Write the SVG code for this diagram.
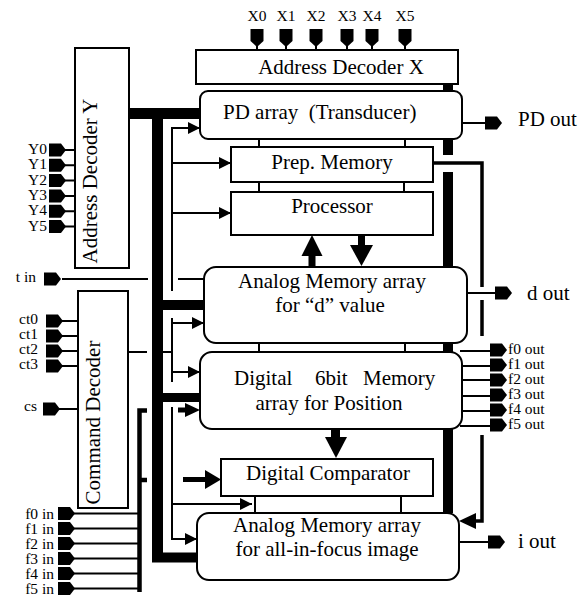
<svg xmlns="http://www.w3.org/2000/svg" width="582" height="598" viewBox="0 0 582 598">
<style>
text{font-family:"Liberation Serif","Times New Roman",serif;fill:#000}
.L{font-size:21px}
.S{font-size:15.5px}
.m{text-anchor:middle}
.e{text-anchor:end}
.box{fill:#fff;stroke:#000;stroke-width:2}
.ln{fill:none;stroke:#000;stroke-width:2}
.ln3{fill:none;stroke:#000;stroke-width:3.5}
.ln4{fill:none;stroke:#000;stroke-width:4.5}
.bus{fill:none;stroke:#000;stroke-width:11}
.arr{fill:none;stroke:#000;stroke-width:2;marker-end:url(#ah)}
.fill{fill:#000}
</style>
<defs>
<marker id="ah" markerUnits="userSpaceOnUse" markerWidth="13" markerHeight="13" refX="12" refY="6" orient="auto"><path d="M0,0 L12,6 L0,12 Z" fill="#000"/></marker>
<path id="pR" d="M0,-6.5 H12 L17,0 L12,6.5 H0 Z" fill="#000"/>
<path id="pD" d="M-6.5,0 H6.5 V12 L0,18 L-6.5,12 Z" fill="#000"/>
</defs>
<rect width="582" height="598" fill="#fff"/>

<g id="connectors">
  <!-- left bus -->
  <path class="bus" d="M129,113.5 H200"/>
  <path class="bus" d="M157.5,108 V562"/>
  <path class="bus" d="M152,557.5 H197" style="stroke-width:10"/>
  <path class="bus" d="M157,305 H204" style="stroke-width:10"/>
  <path class="bus" d="M157,397.5 H200" style="stroke-width:9"/>
  <!-- right bus -->
  <path class="bus" d="M448,83 V155" style="stroke-width:10"/>
  <path class="bus" d="M448,172 V513" style="stroke-width:10"/>
  <!-- prep memory output loop -->
  <path class="ln3" d="M433,163 H482 V287"/>
  <path class="ln3" d="M482,300 V336"/>
  <path class="ln3" d="M482,435 V521 H475"/>
  <polygon class="fill" points="459,521 476,513 476,529"/>
  <!-- control lines -->
  <path class="ln" d="M172,127 V291"/>
  <path class="arr" d="M172,128 H200"/>
  <path class="arr" d="M172,163 H231"/>
  <path class="arr" d="M172,213 H231"/>
  <path class="ln" d="M62,279 H148"/>
  <path class="ln" d="M178,279 H204"/>
  <path class="ln" d="M172,318 V382"/>
  <path class="arr" d="M172,323 H204"/>
  <path class="arr" d="M172,372 H200"/>
  <path class="ln" d="M128,352 H147"/>
  <path class="ln" d="M163,352 H172"/>
  <path class="ln" d="M172,407 V540"/>
  <path class="arr" d="M172,504 H252"/>
  <path class="arr" d="M172,539 H197"/>
  <!-- f in bracket -->
  <path class="ln4" d="M139.5,592 V410.5 H147"/>
  <path class="ln4" d="M139.5,480 H147"/>
  <path class="ln" d="M74,513.5 H139 M74,528.5 H139 M74,543.5 H139 M74,558.5 H139 M74,573.5 H139 M74,588.5 H139"/>
  <rect class="fill" x="178" y="407.5" width="8" height="5"/>
  <polygon class="fill" points="185,403 200,410 185,417"/>
  <rect class="fill" x="183" y="477" width="23" height="5"/>
  <polygon class="fill" points="205,470 221,479.5 205,489"/>
  <!-- inter-box connectors -->
  <path class="ln" d="M259,139 V147 M405,139 V147 M259,182 V192 M404,182 V192 M259,343 V352 M405,343 V352 M255,496 V513 M401,496 V513"/>
  <!-- thick arrows -->
  <rect class="fill" x="308.5" y="255" width="7" height="12"/>
  <polygon class="fill" points="301.5,256 312,235 322.5,256"/>
  <rect class="fill" x="358" y="235" width="7" height="11"/>
  <polygon class="fill" points="350,245 373,245 361.5,266"/>
  <rect class="fill" x="331" y="429" width="9" height="9"/>
  <polygon class="fill" points="325,437 347,437 336,458"/>
  <!-- outputs -->
  <path class="ln" d="M462,123 H486 M467,293 H496 M459,542 H489"/>
  <path class="ln" d="M460,351 H491 M460,366 H491 M460,380 H491 M460,396 H491 M460,411 H491 M460,426 H491"/>
  <!-- input stubs -->
  <path class="ln" d="M257,46 V50 M286,46 V50 M316,46 V50 M347,46 V50 M372,46 V50 M405,46 V50"/>
  <path class="ln" d="M65,150 H75 M65,165.3 H75 M65,180.6 H75 M65,195.9 H75 M65,211.2 H75 M65,226.5 H75"/>
  <path class="ln" d="M62,321 H78 M62,336 H78 M62,351 H78 M62,366 H78 M59,409 H78"/>
</g>

<g id="addrX">
  <rect class="box" x="196" y="50" width="262" height="34"/>
  <text class="L m" x="341" y="74">Address Decoder X</text>
  <use href="#pD" x="257" y="29"/><use href="#pD" x="286" y="29"/><use href="#pD" x="316" y="29"/>
  <use href="#pD" x="347" y="29"/><use href="#pD" x="372" y="29"/><use href="#pD" x="405" y="29"/>
  <text class="S m" x="257" y="21">X0</text><text class="S m" x="286" y="21">X1</text><text class="S m" x="316" y="21">X2</text>
  <text class="S m" x="347" y="21">X3</text><text class="S m" x="372" y="21">X4</text><text class="S m" x="405" y="21">X5</text>
</g>

<g id="addrY">
  <rect class="box" x="75" y="48" width="54" height="220"/>
  <text class="L m" transform="translate(97,181) rotate(-90)">Address Decoder Y</text>
  <use href="#pR" x="49" y="150"/><use href="#pR" x="49" y="165.3"/><use href="#pR" x="49" y="180.6"/>
  <use href="#pR" x="49" y="195.9"/><use href="#pR" x="49" y="211.2"/><use href="#pR" x="49" y="226.5"/>
  <text class="S e" x="47" y="154">Y0</text><text class="S e" x="47" y="169.3">Y1</text><text class="S e" x="47" y="184.6">Y2</text>
  <text class="S e" x="47" y="199.9">Y3</text><text class="S e" x="47" y="215.2">Y4</text><text class="S e" x="47" y="230.5">Y5</text>
</g>

<g id="tin">
  <use href="#pR" x="44" y="279"/>
  <text class="S e" x="36" y="282">t in</text>
</g>

<g id="cmd">
  <rect class="box" x="78" y="291" width="50" height="217"/>
  <text class="L m" transform="translate(100,422.5) rotate(-90)">Command Decoder</text>
  <use href="#pR" x="46" y="321"/><use href="#pR" x="46" y="336"/><use href="#pR" x="46" y="351"/><use href="#pR" x="46" y="366"/>
  <text class="S e" x="38" y="324">ct0</text><text class="S e" x="38" y="339">ct1</text><text class="S e" x="38" y="354">ct2</text><text class="S e" x="38" y="369">ct3</text>
  <use href="#pR" x="43" y="409"/>
  <text class="S e" x="37" y="411">cs</text>
</g>

<g id="fin">
  <use href="#pR" x="58" y="513.5"/><use href="#pR" x="58" y="528.5"/><use href="#pR" x="58" y="543.5"/>
  <use href="#pR" x="58" y="558.5"/><use href="#pR" x="58" y="573.5"/><use href="#pR" x="58" y="588.5"/>
  <text class="S e" x="54" y="518.5">f0 in</text><text class="S e" x="54" y="533.5">f1 in</text><text class="S e" x="54" y="548.5">f2 in</text>
  <text class="S e" x="54" y="563.5">f3 in</text><text class="S e" x="54" y="578.5">f4 in</text><text class="S e" x="54" y="593.5">f5 in</text>
</g>

<g id="pd">
  <rect class="box" x="200" y="91" width="262" height="48" rx="8"/>
  <text class="L" x="223" y="119" xml:space="preserve">PD array  (Transducer)</text>
  <use href="#pR" x="485" y="123"/>
  <text class="L" x="518" y="126">PD out</text>
</g>

<g id="prep">
  <rect class="box" x="231" y="147" width="202" height="35"/>
  <text class="L m" x="332" y="169">Prep. Memory</text>
</g>

<g id="proc">
  <rect class="box" x="231" y="192" width="202" height="43"/>
  <text class="L m" x="332" y="213">Processor</text>
</g>

<g id="analogD">
  <rect class="box" x="204" y="267" width="263" height="76" rx="12"/>
  <text class="L m" x="332" y="288">Analog Memory array</text>
  <text class="L m" x="330" y="312">for “d” value</text>
  <use href="#pR" x="495" y="293"/>
  <text class="L" x="527" y="300">d out</text>
</g>

<g id="digital">
  <rect class="box" x="200" y="352" width="262" height="77" rx="12"/>
  <text class="L" y="385"><tspan x="234">Digital</tspan><tspan x="315">6bit</tspan><tspan x="363">Memory</tspan></text>
  <text class="L m" x="329" y="410">array for Position</text>
  <use href="#pR" x="490" y="350"/><use href="#pR" x="490" y="365"/><use href="#pR" x="490" y="380"/>
  <use href="#pR" x="490" y="395"/><use href="#pR" x="490" y="410"/><use href="#pR" x="490" y="425"/>
  <text class="S" x="508" y="354">f0 out</text><text class="S" x="508" y="369">f1 out</text><text class="S" x="508" y="384">f2 out</text>
  <text class="S" x="508" y="399">f3 out</text><text class="S" x="508" y="414">f4 out</text><text class="S" x="508" y="429">f5 out</text>
</g>

<g id="comparator">
  <rect class="box" x="221" y="459" width="212" height="37"/>
  <text class="L m" x="328" y="480">Digital Comparator</text>
</g>

<g id="focus">
  <rect class="box" x="197" y="513" width="262" height="67" rx="12"/>
  <text class="L m" x="327" y="532">Analog Memory array</text>
  <text class="L m" x="327" y="556">for all-in-focus image</text>
  <use href="#pR" x="488" y="542"/>
  <text class="L" x="518" y="548">i out</text>
</g>
</svg>
